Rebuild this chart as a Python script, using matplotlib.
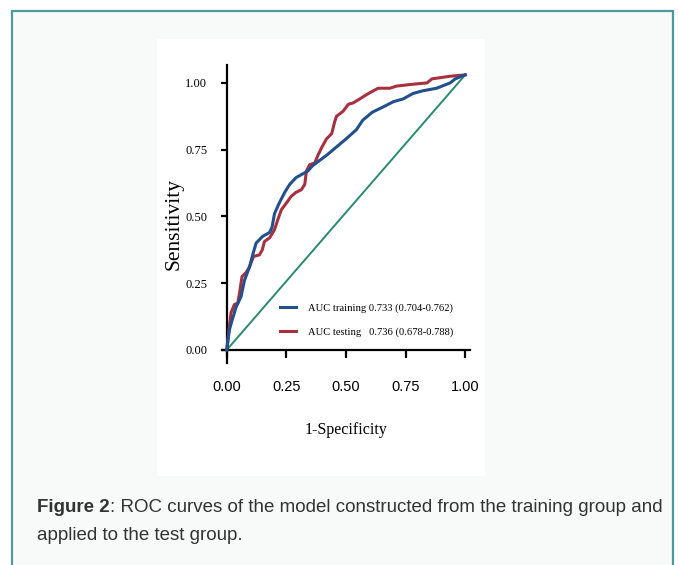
import matplotlib.pyplot as plt
from matplotlib.patches import Rectangle

# ROC curves (1-specificity, sensitivity)
train_fpr = [0.0, 0.011, 0.022, 0.039, 0.06, 0.074, 0.095, 0.11, 0.123, 0.15, 0.18, 0.19, 0.2,
             0.22, 0.243, 0.264, 0.29, 0.32, 0.34, 0.36, 0.39, 0.42, 0.46, 0.50, 0.544, 0.57,
             0.61, 0.656, 0.70, 0.74, 0.78, 0.82, 0.88, 0.937, 0.958, 1.0]
train_tpr = [0.0, 0.075, 0.11, 0.16, 0.2, 0.26, 0.31, 0.36, 0.40, 0.425, 0.44, 0.46, 0.51,
             0.55, 0.59, 0.62, 0.645, 0.66, 0.67, 0.69, 0.71, 0.73, 0.76, 0.79, 0.825, 0.86,
             0.89, 0.91, 0.93, 0.94, 0.96, 0.97, 0.98, 1.0, 1.015, 1.03]

test_fpr = [0.0, 0.011, 0.018, 0.032, 0.046, 0.053, 0.064, 0.081, 0.095, 0.112, 0.137, 0.149,
            0.158, 0.18, 0.2, 0.215, 0.229, 0.25, 0.27, 0.29, 0.313, 0.327, 0.334, 0.348, 0.369,
            0.383, 0.397, 0.418, 0.44, 0.453, 0.46, 0.488, 0.51, 0.53, 0.558, 0.586, 0.614,
            0.635, 0.684, 0.712, 0.77, 0.84, 0.86, 0.937, 1.0]
test_tpr = [0.0, 0.09, 0.14, 0.17, 0.175, 0.21, 0.275, 0.29, 0.31, 0.35, 0.356, 0.375,
            0.406, 0.42, 0.45, 0.49, 0.525, 0.55, 0.575, 0.59, 0.60, 0.62, 0.67, 0.694, 0.70,
            0.73, 0.756, 0.79, 0.81, 0.856, 0.875, 0.894, 0.92, 0.925, 0.94, 0.956, 0.97,
            0.98, 0.98, 0.988, 0.994, 1.0, 1.015, 1.025, 1.03]

diag_x = [0.0, 1.0]
diag_y = [0.0, 1.03]

labels = ["AUC training 0.733 (0.704-0.762)", "AUC testing   0.736 (0.678-0.788)"]
ticks = [0.0, 0.25, 0.5, 0.75, 1.0]
tick_labels = ["0.00", "0.25", "0.50", "0.75", "1.00"]

W, H = 678, 565
fig = plt.figure(figsize=(W / 100, H / 100), dpi=100)
fig.patch.set_facecolor("white")

# framed box + white panel behind the chart
fig.patches.append(Rectangle((12 / W, -0.05), (673 - 12) / W, 1.05 - 11 / H, transform=fig.transFigure,
                             facecolor="#f8fafa", edgecolor="#4b9c98", linewidth=1.6, zorder=0))
fig.patches.append(Rectangle((157 / W, 1 - 476 / H), (485 - 157) / W, (476 - 39) / H,
                             transform=fig.transFigure, facecolor="white", edgecolor="none", zorder=1))

ax = fig.add_axes([222 / W, 1 - 363 / H, 248 / W, 298 / H])
ax.set_zorder(5)
ax.set_facecolor("none")

ax.plot(diag_x, diag_y, color="#2a8a6e", lw=1.4, zorder=2)
ax.plot(test_fpr, test_tpr, color="#a8313f", lw=2.2, label=labels[1], zorder=3)
ax.plot(train_fpr, train_tpr, color="#22508c", lw=2.2, label=labels[0], zorder=4)

ax.set_xlim(-0.02, 1.02)
ax.set_ylim(-0.049, 1.067)

for s in ["top", "right"]:
    ax.spines[s].set_visible(False)
ax.spines["left"].set_position(("data", 0))
ax.spines["bottom"].set_position(("data", 0))
for s in ["left", "bottom"]:
    ax.spines[s].set_linewidth(1.6)

ax.set_xticks(ticks)
ax.set_xticklabels(tick_labels, family="Liberation Sans", fontsize=10.5)
ax.set_yticks(ticks)
ax.set_yticklabels(tick_labels, family="Liberation Serif", fontsize=9)
ax.tick_params(axis="x", direction="out", length=6, width=1.6, pad=16)
ax.tick_params(axis="y", direction="out", length=4, width=1.6, pad=10)

ax.set_xlabel("1-Specificity", family="Liberation Serif", fontsize=11.5, labelpad=20)
ax.set_ylabel("Sensitivity", family="Liberation Serif", fontsize=15.5)
ax.yaxis.set_label_coords(-0.155, 0.465)

h, l = ax.get_legend_handles_labels()
ax.legend(h[::-1], l[::-1], loc="center left", bbox_to_anchor=(0.218, 0.144), borderaxespad=0,
          frameon=False, prop={"family": "Liberation Serif", "size": 7.6},
          handlelength=1.5, handletextpad=1.1, labelspacing=1.3)

# caption
cap_size = 13.5
r = fig.canvas.get_renderer()
t1 = fig.text(37 / W, 1 - 507 / H, "Figure 2", family="Liberation Sans", weight="bold",
              fontsize=cap_size, color="#333333", va="center")
bb = t1.get_window_extent(r)
fig.text(bb.x1 / W, 1 - 507 / H, ": ROC curves of the model constructed from the training group and",
         family="Liberation Sans", fontsize=cap_size, color="#333333", va="center")
fig.text(37 / W, 1 - 535 / H, "applied to the test group.", family="Liberation Sans",
         fontsize=cap_size, color="#333333", va="center")

fig.savefig("out.png", dpi=100)
